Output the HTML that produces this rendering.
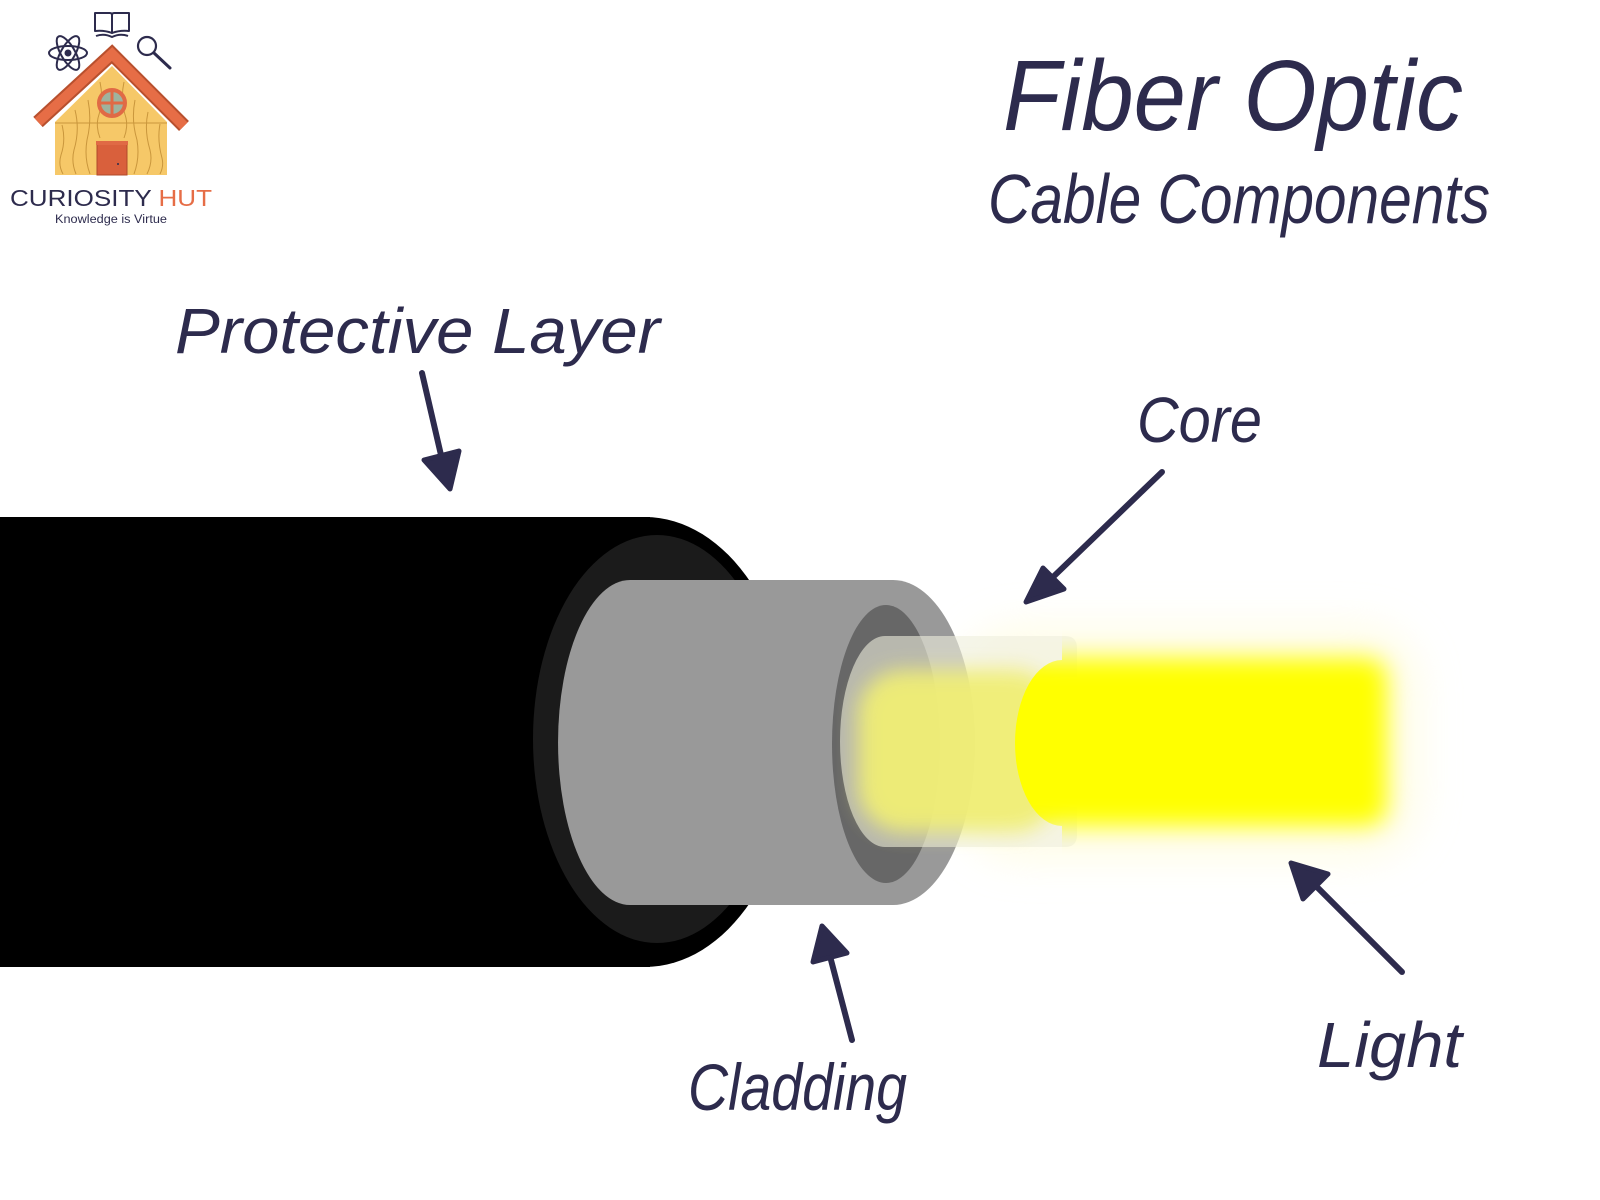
<!DOCTYPE html>
<html>
<head>
<meta charset="utf-8">
<style>
html,body{margin:0;padding:0;background:#fff;}
svg{display:block;}
</style>
</head>
<body>
<svg width="1600" height="1200" viewBox="0 0 1600 1200" xmlns="http://www.w3.org/2000/svg">
<defs>
  <filter id="b12" x="-50%" y="-50%" width="200%" height="200%"><feGaussianBlur stdDeviation="12"/></filter>
  <filter id="b10" x="-50%" y="-50%" width="200%" height="200%"><feGaussianBlur stdDeviation="10"/></filter>
  <filter id="b20" x="-50%" y="-50%" width="200%" height="200%"><feGaussianBlur stdDeviation="20"/></filter>
  <clipPath id="lightclip">
    <path d="M1062,560 L1062,660 A47,83 0 0 0 1062,826 L1062,940 L1520,940 L1520,560 Z"/>
  </clipPath>
</defs>

<rect width="1600" height="1200" fill="#ffffff"/>

<!-- faint halo -->
<rect x="960" y="625" width="460" height="235" rx="60" fill="#fffbd8" opacity="0.6" filter="url(#b20)"/>

<!-- black jacket -->
<rect x="0" y="517" width="650" height="450" fill="#000"/>
<ellipse cx="645" cy="742" rx="150" ry="225" fill="#000"/>
<!-- dark ring -->
<ellipse cx="657" cy="739" rx="124" ry="204" fill="#1b1b1b"/>

<!-- gray cladding cylinder -->
<path d="M630,580 L893,580 A82,162.5 0 0 1 893,905 L630,905 A72,162.5 0 0 1 630,580 Z" fill="#999999"/>
<!-- inner dark hole -->
<ellipse cx="886" cy="744" rx="54" ry="139" fill="#676767"/>

<!-- core tube (translucent) -->
<path d="M885,636 L1065,636 Q1077,636 1077,648 L1077,835 Q1077,847 1065,847 L885,847 A45,105.5 0 0 1 885,636 Z" fill="#eeeede" opacity="0.6"/>

<!-- pale yellow glow inside -->
<rect x="858" y="670" width="200" height="162" rx="45" fill="#f0ee74" filter="url(#b10)" opacity="0.95"/>

<!-- bright light -->
<g clip-path="url(#lightclip)">
  <rect x="975" y="658" width="412" height="168" rx="20" fill="#ffff00" filter="url(#b12)"/>
</g>

<!-- arrows -->
<g stroke="#2d2b4d" fill="#2d2b4d" stroke-linecap="round" stroke-linejoin="round">
  <line x1="422" y1="373" x2="441" y2="455" stroke-width="6"/>
  <polygon points="450,489 424,460 459,451" stroke-width="5"/>
  <line x1="1162" y1="472" x2="1052" y2="578" stroke-width="6"/>
  <polygon points="1026,602 1043,568 1064,589" stroke-width="5"/>
  <line x1="852" y1="1040" x2="831" y2="960" stroke-width="6"/>
  <polygon points="822,926 813,962 847,953" stroke-width="5"/>
  <line x1="1402" y1="972" x2="1318" y2="888" stroke-width="6"/>
  <polygon points="1291,863 1328,874 1303,899" stroke-width="5"/>
</g>

<!-- labels -->
<g fill="#2d2b4d" font-family="'Liberation Sans', sans-serif" font-style="italic">
  <text x="1003" y="130" font-size="100" textLength="460" lengthAdjust="spacingAndGlyphs">Fiber Optic</text>
  <text x="988" y="223" font-size="70" textLength="502" lengthAdjust="spacingAndGlyphs">Cable Components</text>
  <text x="175" y="353" font-size="64" textLength="485" lengthAdjust="spacingAndGlyphs">Protective Layer</text>
  <text x="1137" y="442" font-size="64" textLength="125" lengthAdjust="spacingAndGlyphs">Core</text>
  <text x="688" y="1110" font-size="66" textLength="219" lengthAdjust="spacingAndGlyphs">Cladding</text>
  <text x="1317" y="1067" font-size="64" textLength="145" lengthAdjust="spacingAndGlyphs">Light</text>
</g>

<!-- logo -->
<g>
  <g fill="none" stroke="#2d2b4d" stroke-width="2" stroke-linejoin="round">
    <path d="M95,13 L110,13 Q112,13 112,15 L112,33 Q104,30 95,31 Z"/>
    <path d="M129,13 L114,13 Q112,13 112,15 L112,33 Q120,30 129,31 Z"/>
    <path d="M96,36 Q104,33 112,37 Q120,33 128,36"/>
  </g>
  <g fill="none" stroke="#2d2b4d" stroke-width="2">
    <ellipse cx="68" cy="53" rx="19" ry="7"/>
    <ellipse cx="68" cy="53" rx="19" ry="7" transform="rotate(60 68 53)"/>
    <ellipse cx="68" cy="53" rx="19" ry="7" transform="rotate(120 68 53)"/>
  </g>
  <circle cx="68" cy="53" r="3.5" fill="#2d2b4d"/>
  <circle cx="147" cy="46" r="9" fill="none" stroke="#2d2b4d" stroke-width="2.2"/>
  <line x1="154" y1="53" x2="170" y2="68" stroke="#2d2b4d" stroke-width="3" stroke-linecap="round"/>
  <polygon points="55,122 112,66 167,122 167,175 55,175" fill="#f6c868"/>
  <g fill="none" stroke="#c9963c" stroke-width="1">
    <path d="M62,125 Q66,140 61,155 Q58,165 63,174"/>
    <path d="M75,110 Q80,130 74,150 Q71,162 76,174"/>
    <path d="M88,100 Q92,120 87,140 Q84,158 90,174"/>
    <path d="M135,100 Q131,120 137,140 Q140,158 134,174"/>
    <path d="M148,112 Q144,130 150,150 Q153,162 147,174"/>
    <path d="M160,124 Q157,140 162,158 Q164,166 160,174"/>
    <path d="M100,82 Q104,100 98,118 Q96,128 100,138"/>
    <path d="M124,82 Q120,100 126,118 Q128,128 124,138"/>
    <line x1="55" y1="123" x2="167" y2="123"/>
  </g>
  <polyline points="38,122 112,54 184,126" fill="none" stroke="#b8502e" stroke-width="14" stroke-linejoin="miter"/>
  <polyline points="38,122 112,54 184,126" fill="none" stroke="#e66d46" stroke-width="10" stroke-linejoin="miter"/>
  <circle cx="112" cy="103" r="13" fill="#9fb39e" stroke="#e06a45" stroke-width="4"/>
  <line x1="112" y1="90" x2="112" y2="116" stroke="#e06a45" stroke-width="3"/>
  <line x1="99" y1="103" x2="125" y2="103" stroke="#e06a45" stroke-width="3"/>
  <rect x="97" y="142" width="30" height="33" fill="#d9603c" stroke="#b04a2a" stroke-width="1"/>
  <rect x="96" y="141" width="32" height="4" fill="#e06a45"/>
  <circle cx="118" cy="164" r="1" fill="#2d2b4d"/>
  <text x="10" y="206" font-family="'Liberation Sans', sans-serif" font-size="23" textLength="202" lengthAdjust="spacingAndGlyphs"><tspan fill="#2d2b4d">CURIOSITY </tspan><tspan fill="#e66d46">HUT</tspan></text>
  <text x="55" y="223" font-family="'Liberation Sans', sans-serif" font-size="11.5" fill="#2d2b4d" textLength="112" lengthAdjust="spacingAndGlyphs">Knowledge is Virtue</text>
</g>
</svg>
</body>
</html>
